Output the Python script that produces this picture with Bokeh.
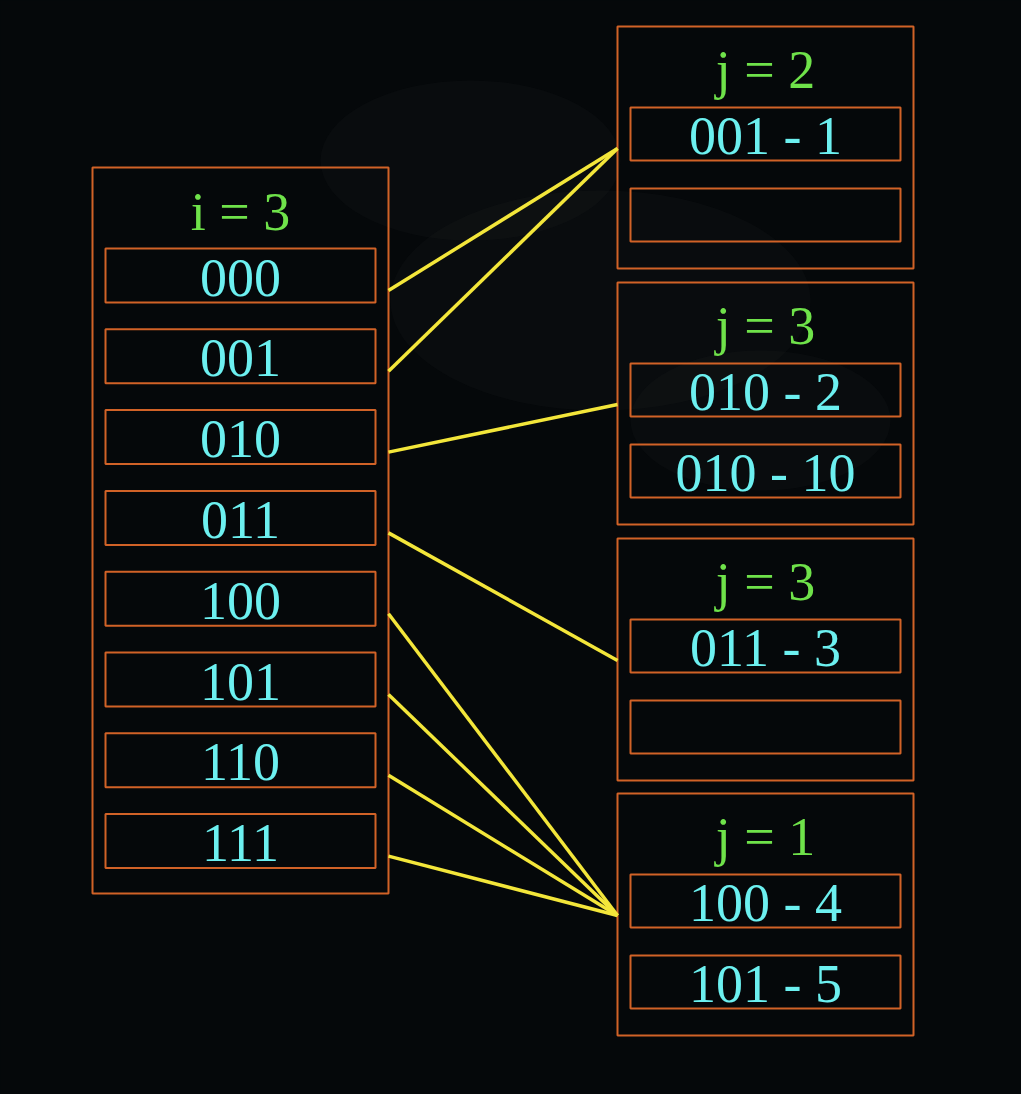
from bokeh.plotting import figure
from bokeh.models import Range1d
from bokeh.core.properties import value
from bokeh.embed import file_html
from bokeh.resources import INLINE

# ---- data ----
global_depth = "i = 3"
directory = ["000", "001", "010", "011", "100", "101", "110", "111"]
bucket_titles = ["j = 2", "j = 3", "j = 3", "j = 1"]
bucket_records = [["001 - 1", ""], ["010 - 2", "010 - 10"], ["011 - 3", ""], ["100 - 4", "101 - 5"]]
pointers = [0, 0, 1, 2, 3, 3, 3, 3]  # directory entry -> bucket index

# ---- style / layout ----
ORANGE = "#d16227"
CYAN = "#6cf0f0"
GREEN = "#6fe24a"
YELLOW = "#f3e63a"
BG = "#05080a"
FONT = value("Liberation Serif")
FS = "54px"

W, H = 1021, 1094
p = figure(width=W, height=H, x_range=Range1d(0, W), y_range=Range1d(H, 0),
           output_backend="svg", toolbar_location=None, min_border=0,
           background_fill_color=BG, border_fill_color=BG, outline_line_color=None)
p.axis.visible = False
p.grid.visible = False

# faint background haze
p.ellipse(x=[600, 470, 760], y=[300, 160, 420], width=[420, 300, 260],
          height=[220, 160, 140], fill_color="#3a3f44", fill_alpha=0.08, line_color=None)

# left directory
L_left, L_right, L_top, L_bottom = 92, 388, 167, 893
in_left, in_right = 105, 375
row0, row_step, row_h = 248, 80.8, 54
p.quad(left=[L_left], right=[L_right], top=[L_top], bottom=[L_bottom],
       fill_alpha=0, line_color=ORANGE, line_width=2)
p.text(x=[(L_left + L_right) / 2], y=[211], text=[global_depth], text_color=GREEN,
       text_font=FONT, text_font_size=FS, text_align="center", text_baseline="middle")
tops = [row0 + k * row_step for k in range(len(directory))]
p.quad(left=[in_left] * len(directory), right=[in_right] * len(directory),
       top=tops, bottom=[t + row_h for t in tops], fill_alpha=0, line_color=ORANGE, line_width=2)
p.text(x=[(in_left + in_right) / 2] * len(directory), y=[t + row_h / 2 + 2 for t in tops],
       text=directory, text_color=CYAN, text_font=FONT, text_font_size=FS,
       text_align="center", text_baseline="middle")

# buckets
B_left, B_right = 617, 913
b_in_left, b_in_right = 630, 900
b_tops = [26, 282, 538, 793]
b_h = 242
for bi, bt in enumerate(b_tops):
    p.quad(left=[B_left], right=[B_right], top=[bt], bottom=[bt + b_h],
           fill_alpha=0, line_color=ORANGE, line_width=2)
    p.text(x=[(B_left + B_right) / 2], y=[bt + 43], text=[bucket_titles[bi]], text_color=GREEN,
           text_font=FONT, text_font_size=FS, text_align="center", text_baseline="middle")
    recs = bucket_records[bi]
    rt = [bt + 81 + k * 81 for k in range(len(recs))]
    p.quad(left=[b_in_left] * len(recs), right=[b_in_right] * len(recs), top=rt,
           bottom=[t + 53 for t in rt], fill_alpha=0, line_color=ORANGE, line_width=2)
    p.text(x=[(b_in_left + b_in_right) / 2] * len(recs), y=[t + 28 for t in rt], text=recs,
           text_color=CYAN, text_font=FONT, text_font_size=FS,
           text_align="center", text_baseline="middle")

# pointers
xs, ys = [], []
for k, b in enumerate(pointers):
    xs.append([L_right, B_left])
    ys.append([tops[k] + row_h / 2 + 15, b_tops[b] + 122])
p.multi_line(xs=xs, ys=ys, line_color=YELLOW, line_width=3.5)

html = file_html(p, INLINE)
html = html.replace("</head>", "<style>html,body{background:%s;margin:0;overflow:hidden}</style></head>" % BG, 1)
open("out.html", "w").write(html)
